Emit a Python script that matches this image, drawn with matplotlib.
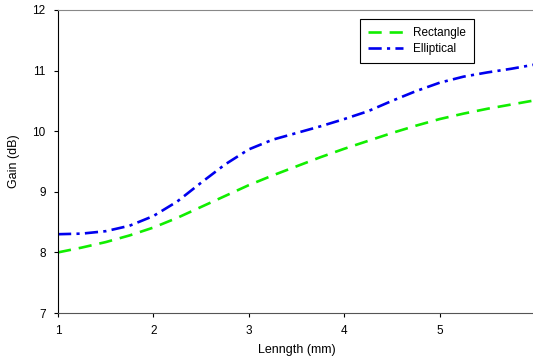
import matplotlib
matplotlib.use("Agg")
import matplotlib.pyplot as plt

# values
length = [1.0, 1.25, 1.5, 1.75, 2.0, 2.25, 2.5, 2.75, 3.0, 3.25, 3.5,
          3.75, 4.0, 4.25, 4.5, 4.75, 5.0, 5.25, 5.5, 5.75, 6.0]
rectangle = [8.0, 8.08, 8.17, 8.28, 8.41, 8.57, 8.75, 8.93, 9.11, 9.27, 9.42,
             9.57, 9.71, 9.84, 9.97, 10.09, 10.2, 10.29, 10.37, 10.44, 10.51]
elliptical = [8.3, 8.31, 8.35, 8.44, 8.6, 8.84, 9.15, 9.45, 9.7, 9.86, 9.97,
              10.08, 10.2, 10.33, 10.5, 10.66, 10.8, 10.9, 10.97, 11.03, 11.1]

plt.rcParams['font.family'] = ['Liberation Sans', 'DejaVu Sans']

fig = plt.figure(figsize=(5.33, 3.59), dpi=100)
ax = fig.add_axes([58 / 533, 46 / 359, 477 / 533, 303 / 359])

ax.plot(length, rectangle, color='#11ee00', lw=1.9, dashes=(5, 3), label='Rectangle')
ax.plot(length, elliptical, color='#0000ee', lw=1.9, dashes=(5, 2, 1.2, 2), label='Elliptical')

ax.set_xlim(1, 6)
ax.set_ylim(7, 12)
ax.set_xticks([1, 2, 3, 4, 5])
ax.set_yticks([7, 8, 9, 10, 11, 12])
ax.tick_params(labelsize=8.5, length=3, width=0.8, direction='out', pad=6)
ax.spines['right'].set_visible(False)
ax.spines['top'].set_color('#888888')
ax.spines['bottom'].set_color('#555555')
ax.spines['left'].set_color('black')
ax.set_xlabel('Lenngth (mm)', fontsize=9, labelpad=5)
ax.set_ylabel('Gain (dB)', fontsize=9, labelpad=9)

leg = ax.legend(loc='upper left', bbox_to_anchor=(0.62, 0.99), fontsize=8.5,
                fancybox=False, framealpha=1, edgecolor='black', handlelength=3.0,
                borderpad=0.7, labelspacing=0.3)
leg.get_frame().set_linewidth(0.8)

fig.savefig('out.png', dpi=100)
